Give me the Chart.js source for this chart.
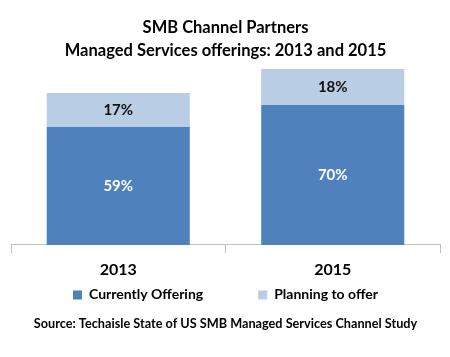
<!DOCTYPE html>
<html><head><meta charset="utf-8">
<script src="https://cdn.jsdelivr.net/npm/chart.js@4"></script>
<style>html,body{margin:0;padding:0;background:#fff}</style>
</head><body>
<canvas id="c" width="450" height="357"></canvas>
<script>
const categories = ['2013', '2015'];
const currentlyOffering = [59, 70];
const planningToOffer = [17, 18];
const seriesNames = ['Currently Offering', 'Planning to offer'];
const titleLines = ['SMB Channel Partners', 'Managed Services offerings: 2013 and 2015'];
const sourceText = 'Source: Techaisle State of US SMB Managed Services Channel Study';

const FONT = 'Lato, "Open Sans", sans-serif';

const barLabels = {
  id: 'barLabels',
  afterDatasetsDraw(chart) {
    const ctx = chart.ctx;
    ctx.save();
    ctx.font = 'bold 15px ' + FONT;
    ctx.textAlign = 'center';
    ctx.textBaseline = 'middle';
    chart.data.datasets.forEach((ds, di) => {
      const meta = chart.getDatasetMeta(di);
      meta.data.forEach((bar, i) => {
        const p = bar.getCenterPoint();
        ctx.fillStyle = ds.labelColor;
        ctx.fillText(ds.data[i] + '%', p.x, p.y);
      });
    });
    ctx.restore();
  }
};

new Chart(document.getElementById('c'), {
  type: 'bar',
  data: {
    labels: categories,
    datasets: [
      {label: seriesNames[0], data: currentlyOffering, backgroundColor: '#4F81BD', labelColor: '#FFFFFF'},
      {label: seriesNames[1], data: planningToOffer, backgroundColor: '#B9CDE5', labelColor: '#111111'}
    ]
  },
  options: {
    responsive: false,
    animation: false,
    devicePixelRatio: 1,
    layout: {padding: {left: 11, right: 10, top: 0, bottom: 25.4}},
    datasets: {bar: {categoryPercentage: 1, barPercentage: 0.667}},
    scales: {
      x: {
        stacked: true,
        grid: {display: true, drawOnChartArea: false, drawTicks: true, tickLength: 8, color: '#BFBFBF', offset: true},
        border: {color: '#BFBFBF', width: 1},
        ticks: {color: '#000', font: {family: FONT, size: 16, weight: 'bold', lineHeight: 1.2}, padding: 7}
      },
      y: {stacked: true, display: false, min: 0, max: 90}
    },
    plugins: {
      title: {
        display: true, text: titleLines, color: '#000',
        font: {family: FONT, size: 16.5, weight: 'bold', lineHeight: 1.394},
        padding: {top: 16, bottom: 3}
      },
      legend: {
        position: 'bottom',
        title: {display: true, text: '', font: {family: FONT, size: 10, lineHeight: 1}, padding: {top: -63.2, bottom: 0}},
        labels: {boxWidth: 9, boxHeight: 9, color: '#000', font: {family: FONT, size: 14, weight: 'bold'}, padding: 55}
      },
      subtitle: {
        display: true, position: 'bottom', text: sourceText, color: '#000',
        font: {family: FONT, size: 12.7, weight: 'bold', lineHeight: 1.2},
        padding: {top: 4.38, bottom: 0}
      },
      tooltip: {enabled: false}
    }
  },
  plugins: [barLabels]
});
</script>
</body></html>
